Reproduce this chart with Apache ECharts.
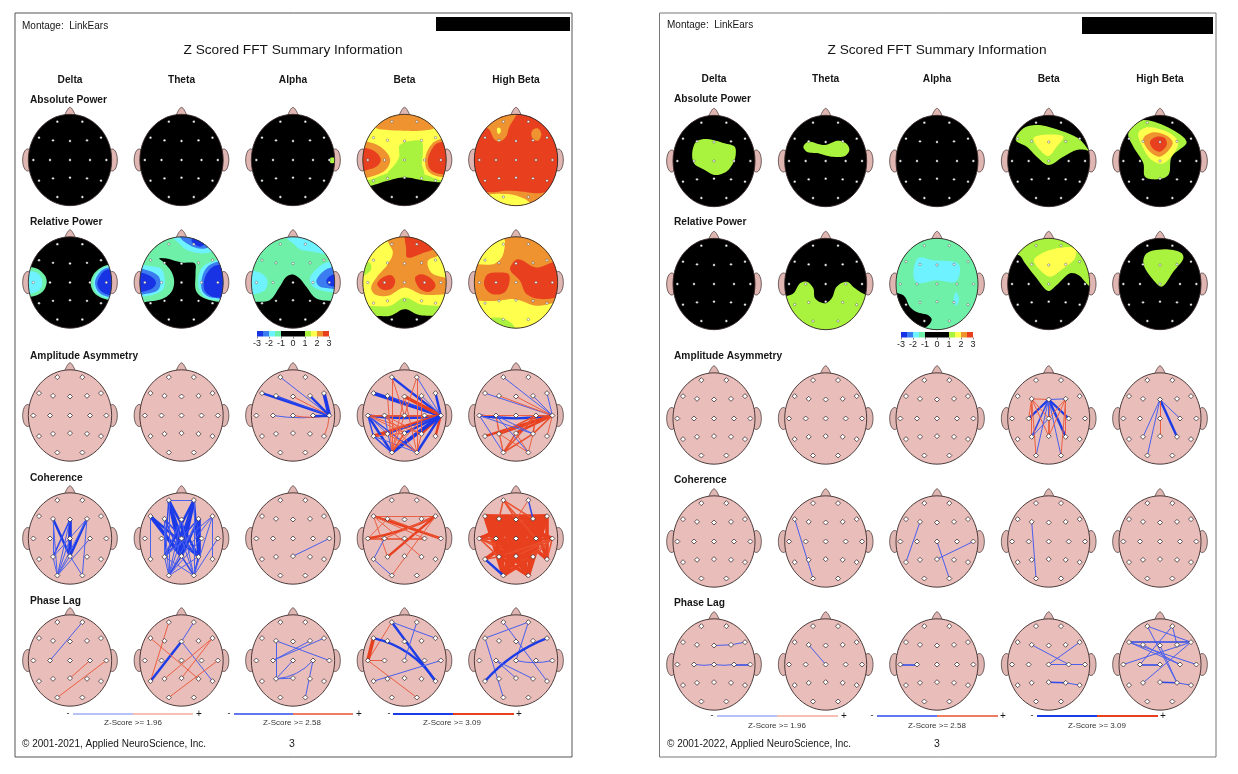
<!DOCTYPE html>
<html><head><meta charset="utf-8">
<style>html,body{margin:0;padding:0;background:#fff}#c{width:1238px;height:774px}</style>
<script src="https://cdn.jsdelivr.net/npm/echarts@6/dist/echarts.min.js"></script>
</head><body><div id="c"></div>
<script>
// ---------- labels
const BANDS = ['Delta','Theta','Alpha','Beta','High Beta'];
const ROWS = ['Absolute Power','Relative Power','Amplitude Asymmetry','Coherence','Phase Lag'];
const LEGEND_LABELS = ['Z-Score >= 1.96','Z-Score >= 2.58','Z-Score >= 3.09'];
const COLORBAR_TICKS = [-3,-2,-1,0,1,2,3];
const COLORBAR_EDGES = [-3,-2.5,-2,-1.5,-1,1,1.5,2,2.5,3];
const COLORBAR_KEYS = ['D','B','C','M','K','G','Y','O','R'];
const Z_COLORS = {D:'#1733e4',B:'#3b7cf0',C:'#6ff2ff',M:'#6ef0a8',K:'#000000',G:'#a9f33e',Y:'#ffff4d',O:'#ef9230',R:'#e8401f'};
const HEAD_FILL = '#e8bdba', EAR_FILL = '#dfb6b2', OUTLINE = '#3a2a2a';

// ---------- electrode sites (offsets from head centre, y down)
const SITES = {Fp1:[-38,-115],Fp2:[37,-115],F7:[-93,-67],F3:[-51,-59],Fz:[0,-57],F4:[51,-59],F8:[93,-67],
 T3:[-110,0],C3:[-60,0],Cz:[0,0],C4:[60,0],T4:[109,0],T5:[-93,62],P3:[-51,55],Pz:[0,53],P4:[51,55],T6:[93,62],O1:[-38,111],O2:[37,111]};

// ---------- topographic bands, drawn in order over the black head
const ALL = [[-170,-170],[170,-170],[170,170],[-170,170]];
const L_ABS_ALPHA = [['G',[[112,-6],[124,-6],[124,8],[112,8]]]];
const L_ABS_BETA = [
 ['G',[[-160,-160],[160,-160],[160,62],[112,67],[60,62],[0,52],[-50,62],[-101,77],[-160,85]]],
 ['Y',[[-160,-160],[160,-160],[160,60],[107,60],[57,42],[0,32],[-51,40],[-108,60],[-160,60]]],
 ['O',[[-160,-170],[160,-170],[100,-100],[50,-88],[0,-88],[-50,-90],[-90,-98]]],
 ['O',[[-140,-55],[-100,-52],[-70,-38],[-48,-15],[-43,3],[-55,28],[-85,45],[-140,52]]],
 ['R',[[-140,-35],[-105,-33],[-82,-20],[-71,0],[-82,18],[-105,28],[-140,32]]],
 ['O',[[140,-60],[95,-58],[70,-30],[62,0],[68,30],[95,48],[140,45]]],
 ['R',[[140,-50],[98,-50],[78,-25],[70,0],[75,25],[98,40],[140,38]]],
 ['G',[[-14,-45],[50,-56],[55,-20],[52,10],[58,44],[0,35],[-50,40],[-30,15],[-16,-10]]]];
const L_ABS_HBETA = [
 ['R',ALL],
 ['O',[[-130,-160],[10,-160],[-5,-125],[-20,-100],[-30,-70],[-50,-55],[-65,-62],[-82,-93],[-130,-120]]],
 ['Y',[[-56,-96],[-48,-96],[-46,-84],[-53,-78],[-57,-86]]],
 ['O',[[50,-90],[65,-95],[76,-78],[66,-58],[50,-65],[46,-78]]],
 ['O',[[-160,100],[-70,97],[-30,92],[20,95],[70,100],[160,85],[160,170],[-160,170]]],
 ['Y',[[-100,112],[-30,102],[10,110],[42,130],[42,170],[-100,170]]]];
const L_REL_DELTA = [
 ['M',[[-140,-42],[-100,-42],[-75,-20],[-70,0],[-80,25],[-105,40],[-140,40]]],
 ['C',[[-140,-30],[-100,-30],[-85,-10],[-85,12],[-100,28],[-140,30]]],
 ['M',[[140,-52],[105,-50],[75,-30],[62,0],[72,30],[100,48],[140,50]]],
 ['C',[[140,-46],[105,-46],[80,-28],[70,0],[78,28],[102,44],[140,46]]],
 ['B',[[140,-42],[105,-42],[85,-25],[75,0],[85,28],[105,40],[140,42]]],
 ['D',[[140,-37],[105,-36],[88,-15],[82,5],[92,25],[110,35],[140,37]]]];
const L_REL_THETA = [
 ['M',[[-160,-160],[160,-160],[160,58],[110,58],[60,43],[43,23],[42,-27],[40,-57],[0,-60],[-45,-72],[-67,-72],[-55,-62],[-30,-32],[-22,-2],[-30,28],[-55,48],[-105,58],[-160,58]]],
 ['C',[[-150,-50],[-100,-50],[-60,-40],[-50,-5],[-55,20],[-75,33],[-100,40],[-150,40]]],
 ['B',[[-150,-40],[-100,-36],[-70,-20],[-63,0],[-70,22],[-100,33],[-150,33]]],
 ['D',[[-150,-28],[-105,-25],[-80,-8],[-77,5],[-92,20],[-150,26]]],
 ['C',[[150,-66],[95,-64],[62,-45],[50,-10],[55,25],[75,46],[105,52],[150,52]]],
 ['B',[[150,-60],[95,-58],[72,-40],[60,-5],[62,25],[80,42],[105,47],[150,47]]],
 ['D',[[150,-50],[100,-50],[78,-30],[67,0],[70,25],[90,42],[110,45],[150,45]]],
 ['C',[[-30,-160],[150,-160],[150,-85],[100,-92],[60,-87],[15,-98],[-5,-115],[-25,-135]]],
 ['B',[[-18,-160],[110,-160],[90,-115],[70,-102],[40,-105],[15,-118],[0,-130]]],
 ['D',[[30,-128],[50,-135],[72,-118],[55,-108],[35,-118]]]];
const L_REL_ALPHA = [
 ['M',[[-160,-160],[160,-160],[160,55],[118,55],[70,48],[40,13],[20,-12],[0,-24],[-20,-17],[-40,13],[-70,53],[-108,58],[-160,58]]],
 ['C',[[-150,-32],[-100,-30],[-78,-10],[-78,12],[-92,28],[-150,32]]],
 ['C',[[-25,-160],[150,-160],[150,-80],[100,-85],[60,-92],[20,-100],[0,-118],[-18,-132]]],
 ['C',[[150,-62],[100,-60],[65,-35],[50,-10],[60,12],[90,25],[150,25]]],
 ['B',[[150,-45],[105,-42],[78,-20],[70,-3],[80,12],[105,17],[150,17]]],
 ['D',[[150,-25],[115,-22],[100,-5],[108,8],[150,11]]]];
const L_REL_BETA = [
 ['G',[[-160,-160],[160,-160],[160,100],[92,100],[42,97],[0,80],[-43,100],[-88,100],[-160,100]]],
 ['Y',[[-160,-160],[160,-160],[160,70],[107,70],[47,65],[0,45],[-43,70],[-100,70],[-160,65]]],
 ['G',[[-125,-55],[-105,-60],[-100,-40],[-115,-25],[-130,-20]]],
 ['O',[[-50,-160],[110,-160],[110,-90],[100,-80],[70,-65],[80,-30],[120,-15],[160,-10],[160,25],[95,37],[50,35],[0,15],[-50,40],[-90,35],[-100,15],[-80,-20],[-50,-55],[-35,-90],[-50,-125]]],
 ['R',[[5,-160],[110,-160],[95,-105],[60,-90],[8,-75],[5,-100]]],
 ['R',[[-82,5],[-70,-12],[-40,-22],[-28,-5],[-38,18],[-65,22]]],
 ['R',[[32,-15],[50,-25],[80,-12],[93,10],[75,28],[45,18]]]];
const L_REL_HBETA = [
 ['Y',ALL],
 ['G',[[-80,110],[-38,108],[-5,135],[-60,160]]],
 ['O',[[-33,-160],[160,-160],[160,60],[122,60],[62,70],[-3,50],[-58,55],[-118,55],[-160,55],[-160,-55],[-118,-55],[-68,-55],[-43,-75],[-33,-115]]],
 ['R',[[-96,0],[-85,-25],[-45,-30],[-22,-25],[-20,0],[-35,30],[-70,35],[-90,20]]],
 ['R',[[-18,-40],[0,-68],[15,-68],[60,-45],[125,-65],[160,-60],[160,25],[82,50],[32,35],[12,-5]]]];
const R_ABS_DELTA = [['G',[[-65,-28],[-53,-58],[-28,-66],[-3,-63],[32,-53],[62,-43],[65,-18],[57,7],[37,32],[2,42],[-28,27],[-60,7]]]];
const R_ABS_THETA = [['G',[[-67,-43],[-52,-58],[-22,-51],[-2,-48],[38,-61],[63,-51],[71,-33],[58,-15],[18,-13],[-22,-23],[-57,-28]]]];
const R_ABS_BETA = [
 ['G',[[-99,-63],[-76,-98],[-36,-108],[24,-95],[89,-68],[104,-53],[122,-28],[112,-33],[84,-33],[44,-13],[-1,12],[-36,-13],[-66,-43]]],
 ['Y',[[-46,-68],[-21,-78],[44,-73],[24,-43],[-1,-15],[-26,-33]]]];
const R_ABS_HBETA = [
 ['G',[[-95,-83],[-50,-123],[80,-58],[35,-13],[25,42],[-10,55],[-45,47],[-50,7],[-80,-43]]],
 ['Y',[[-65,-83],[-40,-101],[30,-83],[55,-53],[10,7],[-25,-3],[-50,-38]]],
 ['O',[[-50,-68],[-20,-86],[25,-73],[38,-53],[0,-13],[-35,-33]]],
 ['R',[[-30,-58],[-10,-73],[15,-68],[20,-48],[0,-28],[-22,-38]]]];
const R_REL_THETA = [['G',[[-117,36],[-97,28],[-77,-2],[-57,-7],[-37,13],[-32,43],[-2,58],[18,43],[33,8],[63,-7],[88,13],[123,33],[160,33],[160,170],[-160,170],[-160,36]]]];
const R_REL_ALPHA = [
 ['M',ALL],
 ['C',[[-56,-78],[-11,-71],[64,-61],[67,-26],[54,-6],[-1,-11],[-61,-4],[-71,-31]]],
 ['C',[[57,24],[66,45],[58,65],[50,50]]],
 ['K',[[-160,30],[-101,34],[-81,69],[-61,84],[-26,94],[-16,106],[-26,124],[-60,140],[-160,120]]]];
const R_REL_BETA = [
 ['G',[[-160,-60],[-91,-87],[-71,-62],[-36,-17],[-1,21],[24,3],[64,-32],[89,-27],[124,8],[160,20],[160,-170],[-160,-170]]],
 ['Y',[[-44,-72],[4,-102],[79,-107],[79,-77],[44,-47],[4,-22],[-26,-42]]]];
const R_REL_HBETA = [['G',[[-50,-62],[-40,-92],[20,-104],[65,-92],[70,-77],[40,-37],[5,8],[-20,-12]]]];
const NONE = [];

// ---------- connections: [from, 'to to to', z-class (sign = +/-), curve]
const L_AA_ALPHA = [['T4','F7',-3],['T4','Fp1',-1],['T4','F3',-2],['T4','Fz',1],['T4','C3',-1,.08],['T4','Cz',1,.1],['T4','F8',-4],['T4','F4',-3],['T4','C4',-3],['T4','T6',1,.1]];
const L_AA_BETA = [['T4','F7',-4],['T4','Fp1',-3],['T4','F3',-2],['T4','Fz',4],['T4','F4',-1],['T4','F8',-3],['T4','Fp2',-1],['T4','T3',-3,.07],['T4','C3',-2],['T4','Cz',1],['T4','C4',2],
 ['T4','T5',4],['T4','P3',-2],['T4','Pz',-3],['T4','P4',3],['T4','T6',3],['T4','O1',-4],['T4','O2',-3],
 ['T3','O1',-3],['T3','O2',-2],['T3','P3',-1],['T3','Pz',1],['T3','P4',1],['T3','T5',-2],['T3','Cz',1],['T3','C4',2],['T5','O1',-2],['T5','O2',-1],['C3','O1',-1],['C3','O2',1],['C3','P4',1],['C3','Pz',1],
 ['Cz','O1',1],['P3','O2',1],['Fz','O1',1],['Fz','O2',1],['Fp1','O1',1],['Fp2','O2',1],['Fp1','Cz',1],['Fp2','Cz',1],['F3','O1',1],['F4','P4',1],['C4','O1',1],['Pz','O1',2],['P4','O2',1],['T5','Pz',1]];
const L_AA_HBETA = [['T4','Fp1',-1],['T4','F7',-1],['T4','F3',1],['T4','Fz',1],['T4','F4',-1],['T4','F8',-1],['T4','T3',-3,.08],['T4','C3',1],['T4','Cz',1],['T4','T5',3],['T4','P3',3],['T4','Pz',3],['T4','P4',2],['T4','C4',2],['T4','T6',1],
 ['T3','O1',-1],['C3','P3',1],['C3','O1',1],['P3','O1',1],['P3','O2',1],['Pz','O1',2],['Pz','O2',1],['P4','O1',2],['P4','O2',1],['C4','O1',2],['C4','P4',2],['C3','O2',-1],['Pz','C4',2],['P3','C4',2],['T3','P4',-1],['C3','P4',-1],['T3','C3',1]];
const L_COH_DELTA = [['F3','Pz',-3],['Fz','Pz',-4],['Fz','P3',-2],['F4','Pz',-3],['F4','O1',-1],['F3','O1',-1],['Fz','O1',-1],['C4','O1',-1],['F4','P3',-1],['P3','O1',-1],['Pz','O1',-1],['F4','O2',-1],['Cz','O1',-1],['Pz','O2',-1],['F3','P3',-1]];
const L_COH_THETA = [['F7','Pz',-4],['F7','P4',-3],['Fp1','Pz',-4],['Fp1','P3',-2],['Fp1','Cz',-3],['Fp1','P4',-3],['Fp2','Pz',-4],['Fp2','P4',-3],['Fp2','P3',-3],['Fp2','Cz',-3],['Fz','Pz',-3],['F3','Pz',-2],['F3','P3',-1],['F3','P4',-2],['F4','Pz',-3],['F4','P4',-4],['F4','P3',-2],
 ['F4','O1',-1],['F3','O1',-1],['Fz','O1',-1],['Fz','O2',-1],['F8','P3',-1],['F7','T5',-1],['F8','T6',-1],['T4','O2',-1],['P3','O1',-1],['Pz','O1',-2],['Pz','O2',-2],['P4','O1',-1],['P4','O2',-2],['P3','O2',-1],['Cz','O1',-1],['Cz','O2',-1],['C4','O1',-1],['F8','Pz',-1],['F8','O2',-1],['Fz','P3',-1],['Fp1','O1',-1],['Fp2','O2',-1],['Fp1','Fp2',-1]];
const L_COH_ALPHA = [['Pz','T4',-1]];
const L_COH_BETA = [['F7','F8',1],['F7','T4',3],['T3','F8',3,-.08],['C3','F8',1],['F3','T4',2],['P3','F8',3],['F7','P3',1],['F7','P4',1],['C3','T5',-1],['T5','O1',-1],['O1','F8',1],['F3','T3',1],['T3','C4',2],['F7','C4',1]];
const L_COH_HBETA = [
 ['F7','F3 Fz F4 F8 C3 Cz C4 T4 P3 Pz P4 O1 O2',4],['F3','Fz F4 F8 C3 Cz C4 T4 P3 Pz P4 T6 O1 O2',4],['Fz','F4 F8 C3 Cz C4 T4 T3 P3 Pz P4 O1 O2',3],['F4','F8 C3 Cz C4 T3 P3 Pz P4 T6 O1 O2',4],['F8','C3 Cz C4 T3 T5 P3 Pz P4 T6 O1 O2',4],
 ['T3','C3 Cz C4 T4 P3 Pz P4',2],['C3','Cz C4 T4 P3 Pz P4 O1 O2',3],['Cz','C4 T4 P3 Pz P4 O1 O2',3],['C4','T4 P3 Pz P4 O1 O2',3],['T4','P3 Pz P4 T6 O1',2],
 ['P3','O1 O2 Pz',4],['Pz','O1 O2 P4',4],['P4','O1 O2',4],['T5','P3',2],['Fp1','F3 Fz F4 C4',2],['Fp2','Fz',1],['Fp2','F4',-2],['T5','O1',-3]];
const L_PL_DELTA = [['C3','Fp2',-1],['O1','T4',1],['Pz','C4',1]];
const L_PL_THETA = [['Fp1','T5',1],['Fp2','Fz',-1],['Fz','T5',-3],['Fz','T6',-1],['F7','P4',1],['F8','P3',1],['T4','O1',1],['F8','Pz',1]];
const L_PL_ALPHA = [['F3','P3',-1],['F3','T4',-1],['C3','F4',-1],['P3','Pz',-1],['P3','C4',-1,-.2],['P3','Cz',-1],['C4','O2',-1],['F8','C3',-1]];
const L_PL_BETA = [['Fp1','T3',1],['F7','T3',4],['T3','C3',1],['T3','O2',1],['Fp1','T6',-3],['F7','T6',-3,.2],['Fp2','Cz',-1],['Fp1','F8',-1],['T5','T4',-1]];
const L_PL_HBETA = [['F7','Fp2',-1],['F7','O1',-1],['Fp1','T6',-1],['Fp2','Cz',-1],['T5','F8',-3,.12],['C3','P4',-1],['C3','Pz',-1],['Cz','T4',-1,-.12]];
const R_AA_BETA = [['Fz','C3',-3],['Fz','F3',1],['Fz','F4',-1],['Fz','C4',-3],['Fz','P3',-2],['Fz','P4',-3],['Fz','Pz',2],['Fz','O1',-1],['Fz','O2',-1],['Fz','Cz',-1],['F3','P3',1],['F4','P4',1],['F3','O1',1],['F4','O2',1],['F3','Pz',1],['F4','Pz',1],['Cz','P3',-1],['F3','Cz',1],['F4','Cz',1],['F3','C3',1]];
const R_AA_HBETA = [['Fz','P3',-1],['Fz','O1',-1],['Fz','P4',-3],['Fz','C4',-1],['Fz','Pz',1]];
const R_COH_THETA = [['F7','O1',-1]];
const R_COH_ALPHA = [['F3','T5',-1],['Cz','O2',-1],['Pz','T4',-1]];
const R_COH_BETA = [['F3','O1',-1]];
const R_PL_DELTA = [['Fz','F4',-1],['F4','F8',-1],['C3','Cz',-1,-.08],['Cz','C4',-1,-.08],['C4','T4',-2]];
const R_PL_THETA = [['F3','Cz',-1]];
const R_PL_ALPHA = [['T3','C3',-2]];
const R_PL_BETA = [['F3','C4',-1],['F8','Cz',-1],['Cz','T4',-1],['Pz','P4',-2],['P4','T6',-1]];
const R_PL_HBETA = [['Fp1','F8',-1],['Fp1','P4',-1],['Fp2','F4',-1],['F7','F8',-2],['F7','T4',-1],['F3','C4',-1],['Fp2','C3',-1],['T3','F8',-1],['C3','Cz',-2],['P3','F8',-1],['Pz','P4',-2],['P4','T6',-1],['F7','C4',-1],['Fz','P4',-1]];

const TOPO_L = [[NONE,NONE,L_ABS_ALPHA,L_ABS_BETA,L_ABS_HBETA],[L_REL_DELTA,L_REL_THETA,L_REL_ALPHA,L_REL_BETA,L_REL_HBETA]];
const TOPO_R = [[R_ABS_DELTA,R_ABS_THETA,NONE,R_ABS_BETA,R_ABS_HBETA],[NONE,R_REL_THETA,R_REL_ALPHA,R_REL_BETA,R_REL_HBETA]];
const LINK_L = [[NONE,NONE,L_AA_ALPHA,L_AA_BETA,L_AA_HBETA],[L_COH_DELTA,L_COH_THETA,L_COH_ALPHA,L_COH_BETA,L_COH_HBETA],[L_PL_DELTA,L_PL_THETA,L_PL_ALPHA,L_PL_BETA,L_PL_HBETA]];
const LINK_R = [[NONE,NONE,NONE,R_AA_BETA,R_AA_HBETA],[NONE,R_COH_THETA,R_COH_ALPHA,R_COH_BETA,NONE],[R_PL_DELTA,R_PL_THETA,R_PL_ALPHA,R_PL_BETA,R_PL_HBETA]];

// ---------- page layout
const PAGES = [
 {x0:15,y0:13,x1:572,y1:757,border:'#555',rect:[436,17,134,14],cols:[70,181.5,293,404.5,516],rows:[160,282.5,415.5,538.5,660.5],rx:125,
  montageXY:[22,26],titleX:293,titleY:50,bandY:80,rowX:30,rowY:[100,222,356,478.5,601],copy:'© 2001-2021, Applied NeuroScience, Inc.',copyXY:[22,744.5],pageNo:[292,744],
  cb:[257,331,72,5.5],legY:714,legTextY:723,leg:[[73,133,193,68,199,133],[234,293,353,229,359,292],[393,453,514,389,519,452]],topo:TOPO_L,link:LINK_L},
 {x0:659.5,y0:13,x1:1216,y1:757,border:'#777',rect:[1082,17,131,17],cols:[714,825.7,937,1048.7,1160],rows:[161,284,418.5,541.5,664.5],rx:123,
  montageXY:[667,25.5],titleX:937,titleY:50,bandY:79.5,rowX:674,rowY:[99.5,222.5,356.5,480,603],copy:'© 2001-2022, Applied NeuroScience, Inc.',copyXY:[667,744],pageNo:[937,744],
  cb:[901,332,72,5.5],legY:716,legTextY:726,leg:[[717,777,838,712,844,777],[877,937,998,872,1003,937],[1037,1097,1158,1032,1163,1097]],topo:TOPO_R,link:LINK_R}
];
const LEG_STYLE = [['#6f84f2','#f0806a',1.2],['#2e48ea','#e9502e',1.3],['#1c3ce8','#e8401f',2]];
const Z_WIDTH = {1:1,2:1.5,3:2.4,4:3.6};
const Z_BLUE = {1:'#4a60ee',2:'#2e48ec',3:'#1c3ce8',4:'#1a38e8'};
const Z_RED = {1:'#ec5f42',2:'#ea4e2c',3:'#e8401f',4:'#e8401f'};

const grids=[],xAxes=[],yAxes=[],series=[],gfx=[];
const FONT='"Liberation Sans",Arial,sans-serif';
function txt(x,y,s,size,opt){gfx.push({type:'text',silent:true,z:20,x,y,style:Object.assign({text:s,fill:'#161616',font:size+'px '+FONT,textVerticalAlign:'middle',textAlign:'left'},opt||{})});}

// closed centripetal Catmull-Rom through the read-off outline points
function spline(P){
 const n=P.length,out=[];
 for(let i=0;i<n;i++){
  const p0=P[(i-1+n)%n],p1=P[i],p2=P[(i+1)%n],p3=P[(i+2)%n];
  const tj=(a,b)=>Math.pow(Math.hypot(b[0]-a[0],b[1]-a[1]),0.5)||1e-3;
  const t0=0,t1=t0+tj(p0,p1),t2=t1+tj(p1,p2),t3=t2+tj(p2,p3);
  for(let k=0;k<8;k++){
   const t=t1+(t2-t1)*k/8;
   const L=(a,b,ta,tb)=>[(tb-t)/(tb-ta)*a[0]+(t-ta)/(tb-ta)*b[0],(tb-t)/(tb-ta)*a[1]+(t-ta)/(tb-ta)*b[1]];
   const A1=L(p0,p1,t0,t1),A2=L(p1,p2,t1,t2),A3=L(p2,p3,t2,t3);
   const B1=L(A1,A2,t0,t2),B2=L(A2,A3,t1,t3);
   out.push(L(B1,B2,t1,t2));
  }
 }
 return out;
}

function addHead(pg,col,row){
 const gi=grids.length, cx=pg.cols[col], cy=pg.rows[row], rx=pg.rx, ry=137;
 grids.push({left:cx-60,top:cy-60,width:120,height:120,containLabel:false});
 xAxes.push({type:'value',gridIndex:gi,min:-180,max:180,show:false});
 yAxes.push({type:'value',gridIndex:gi,min:-180,max:180,inverse:true,show:false});
 const isTopo=row<2, base={xAxisIndex:gi,yAxisIndex:gi,silent:true,animation:false,clip:false};
 const ell=(api)=>{const c=api.coord([0,0]),e=api.coord([rx,ry]);return {cx:c[0],cy:c[1],rx:e[0]-c[0],ry:e[1]-c[1]};};
 const pts=(api,list)=>list.map(p=>api.coord(p));
 series.push(Object.assign({},base,{type:'custom',z:2,data:[[0,0]],renderItem:(p,api)=>{
  const earL=api.coord([-127,0]),earE=api.coord([-112,33]);
  const eR=api.coord([127,0]);
  const ex=earE[0]-earL[0],ey=earE[1]-earL[1];
  const st={fill:EAR_FILL,stroke:OUTLINE,lineWidth:0.7};
  return {type:'group',children:[
   {type:'polygon',shape:{points:pts(api,spline([[-16,-125],[-10,-147],[0,-158],[10,-147],[16,-125]]))},style:st},
   {type:'ellipse',shape:{cx:earL[0],cy:earL[1],rx:ex,ry:ey},style:st},
   {type:'ellipse',shape:{cx:eR[0],cy:eR[1],rx:ex,ry:ey},style:st},
   {type:'ellipse',shape:ell(api),style:{fill:isTopo?'#000':HEAD_FILL}}
  ]};}}));
 if(isTopo){
  const bands=pg.topo[row][col];
  if(bands.length) series.push(Object.assign({},base,{type:'custom',z:3,data:bands.map((b,i)=>[i,0]),renderItem:(p,api)=>{
   const b=bands[api.value(0)];
   return {type:'polygon',shape:{points:pts(api,b[1]===ALL?ALL:spline(b[1]))},style:{fill:Z_COLORS[b[0]]},clipPath:{type:'ellipse',shape:ell(api)}};
  }}));
 }
 series.push(Object.assign({},base,{type:'custom',z:4,data:[[0,0]],renderItem:(p,api)=>({type:'ellipse',shape:ell(api),style:{fill:'none',stroke:OUTLINE,lineWidth:0.9}})}));
 if(!isTopo){
  const links=[];
  pg.link[row-2][col].forEach(l=>{l[1].split(' ').forEach(t=>{
   const z=Math.abs(l[2]),blue=l[2]<0;
   links.push({coords:[SITES[l[0]],SITES[t]],lineStyle:{color:(blue?Z_BLUE:Z_RED)[z],width:Z_WIDTH[z],curveness:l[3]||0,opacity:1}});
  });});
  if(links.length) series.push(Object.assign({},base,{type:'lines',coordinateSystem:'cartesian2d',z:5,polyline:false,effect:{show:false},data:links}));
 }
 series.push(Object.assign({},base,{type:'scatter',z:6,symbol:isTopo?'circle':'diamond',symbolSize:isTopo?2.4:5,
  itemStyle:{color:'#fff',borderColor:isTopo?'#222':'#2a2020',borderWidth:isTopo?0.35:0.7,opacity:1},
  data:Object.values(SITES)}));
}

PAGES.forEach(pg=>{
 gfx.push({type:'rect',silent:true,z:0,shape:{x:pg.x0,y:pg.y0,width:pg.x1-pg.x0,height:pg.y1-pg.y0},style:{fill:'#fff',stroke:pg.border,lineWidth:1}});
 gfx.push({type:'rect',silent:true,z:20,shape:{x:pg.rect[0],y:pg.rect[1],width:pg.rect[2],height:pg.rect[3]},style:{fill:'#000'}});
 txt(pg.montageXY[0],pg.montageXY[1],'Montage:  LinkEars',10);
 txt(pg.titleX,pg.titleY,'Z Scored FFT Summary Information',13.7,{textAlign:'center'});
 BANDS.forEach((b,i)=>txt(pg.cols[i],pg.bandY,b,10,{textAlign:'center',font:'bold 10.2px '+FONT}));
 ROWS.forEach((r,i)=>txt(pg.rowX,pg.rowY[i],r,10,{font:'bold 10.2px '+FONT}));
 txt(pg.copyXY[0],pg.copyXY[1],pg.copy,10);
 txt(pg.pageNo[0],pg.pageNo[1],'3',10.5,{textAlign:'center'});
 pg.leg.forEach((l,i)=>{
  const s=LEG_STYLE[i];
  gfx.push({type:'line',silent:true,z:20,shape:{x1:l[0],y1:pg.legY,x2:l[1],y2:pg.legY},style:{stroke:s[0],lineWidth:s[2]}});
  gfx.push({type:'line',silent:true,z:20,shape:{x1:l[1],y1:pg.legY,x2:l[2],y2:pg.legY},style:{stroke:s[1],lineWidth:s[2]}});
  txt(l[3],pg.legY,'-',9,{textAlign:'center'});
  txt(l[4],pg.legY,'+',10,{textAlign:'center'});
  txt(l[5],pg.legTextY,LEGEND_LABELS[i],8,{textAlign:'center',fill:'#333'});
 });
 for(let r=0;r<5;r++)for(let c=0;c<5;c++)addHead(pg,c,r);
 // colour bar
 const gi=grids.length;
 grids.push({left:pg.cb[0],top:pg.cb[1],width:pg.cb[2],height:pg.cb[3]});
 xAxes.push({type:'value',gridIndex:gi,min:-3,max:3,interval:1,position:'bottom',
  axisLine:{show:false},splitLine:{show:false},axisTick:{show:true,length:2,lineStyle:{color:'#333',width:0.6}},
  axisLabel:{margin:3,fontSize:9,color:'#222',fontFamily:FONT,customValues:COLORBAR_TICKS,formatter:v=>String(v)}});
 yAxes.push({type:'value',gridIndex:gi,min:0,max:1,show:false});
 series.push({type:'custom',xAxisIndex:gi,yAxisIndex:gi,silent:true,animation:false,z:3,
  data:COLORBAR_KEYS.map((k,i)=>[COLORBAR_EDGES[i],COLORBAR_EDGES[i+1],i]),
  encode:{x:[0,1]},
  renderItem:(p,api)=>{
   const a=api.coord([api.value(0),1]),b=api.coord([api.value(1),0]);
   return {type:'rect',shape:{x:a[0],y:a[1],width:b[0]-a[0],height:b[1]-a[1]},style:{fill:Z_COLORS[COLORBAR_KEYS[api.value(2)]]}};
  }});
});

const chart=echarts.init(document.getElementById('c'),null,{width:1238,height:774});
chart.setOption({animation:false,backgroundColor:'#fff',tooltip:{show:false},grid:grids,xAxis:xAxes,yAxis:yAxes,series,graphic:{elements:gfx}});
</script></body></html>
